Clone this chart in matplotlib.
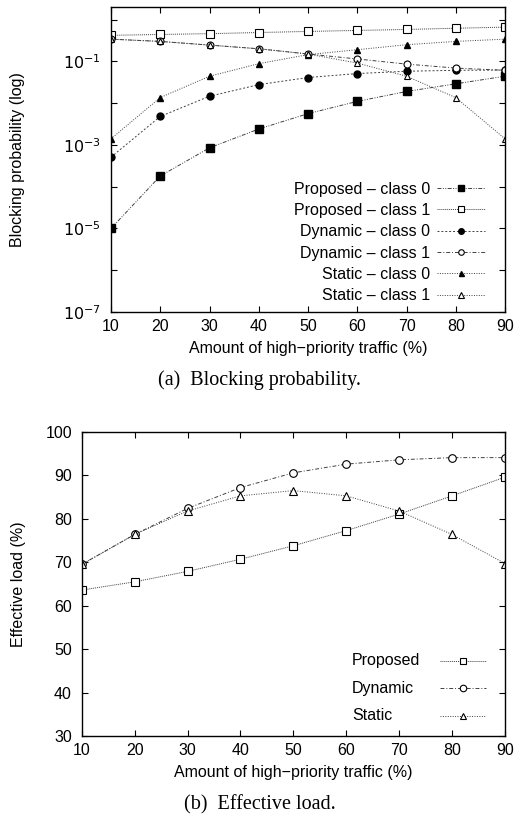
import numpy as np
import matplotlib.pyplot as plt

plt.rcParams['font.family'] = ['Liberation Sans', 'DejaVu Sans']

x = [10, 20, 30, 40, 50, 60, 70, 80, 90]

# blocking probability
prop_c0 = [1.0e-5, 1.8e-4, 8.5e-4, 2.4e-3, 5.6e-3, 0.011, 0.019, 0.029, 0.044]
prop_c1 = [0.42, 0.44, 0.46, 0.49, 0.52, 0.55, 0.58, 0.62, 0.66]
dyn_c0 = [5.1e-4, 4.8e-3, 0.0146, 0.0277, 0.041, 0.051, 0.058, 0.061, 0.062]
dyn_c1 = [0.34, 0.30, 0.245, 0.20, 0.15, 0.114, 0.086, 0.069, 0.061]
sta_c0 = [1.4e-3, 0.0136, 0.044, 0.088, 0.145, 0.19, 0.25, 0.30, 0.34]
sta_c1 = [0.34, 0.30, 0.245, 0.20, 0.15, 0.091, 0.044, 0.0136, 1.4e-3]

# effective load
load_prop = [63.6, 65.5, 67.9, 70.7, 73.8, 77.3, 81.1, 85.3, 89.6]
load_dyn = [69.5, 76.4, 82.4, 87.2, 90.6, 92.6, 93.6, 94.1, 94.1]
load_sta = [69.5, 76.4, 81.8, 85.3, 86.5, 85.3, 81.8, 76.4, 69.7]
load_names = ['Proposed', 'Dynamic', 'Static']

fs = 11.5
W, H = 514.0, 822.0
fig = plt.figure(figsize=(5.14, 8.22), dpi=100)

lw = 0.7
lc = '0.25'
ax1 = fig.add_axes([111 / W, 1 - 312 / H, 394 / W, 305 / H])
ax1.plot(x, prop_c0, color=lc, lw=lw, dashes=(4, 1.5, 1, 1.5, 1, 1.5), marker='s', ms=5.5,
         mfc='black', mec='black', label='Proposed \u2013 class 0')
ax1.plot(x, prop_c1, color=lc, lw=lw, dashes=(1, 1), marker='s', ms=6,
         mfc='white', mec='black', mew=0.8, label='Proposed \u2013 class 1')
ax1.plot(x, dyn_c0, color=lc, lw=lw, dashes=(2, 2), marker='o', ms=5,
         mfc='black', mec='black', label='Dynamic \u2013 class 0')
ax1.plot(x, dyn_c1, color=lc, lw=lw, dashes=(4, 2, 1, 2), marker='o', ms=5,
         mfc='white', mec='black', mew=0.8, label='Dynamic \u2013 class 1')
ax1.plot(x, sta_c0, color=lc, lw=lw, dashes=(1, 1.5), marker='^', ms=4.5,
         mfc='black', mec='black', label='Static \u2013 class 0')
ax1.plot(x, sta_c1, color=lc, lw=lw, dashes=(1, 1.5), marker='^', ms=5,
         mfc='white', mec='black', mew=0.8, label='Static \u2013 class 1')
ax1.set_yscale('log')
ax1.set_ylim(1e-7, 2)
ax1.set_xlim(10, 90)
ax1.set_xticks(x)
ax1.set_yticks([1e-7, 1e-5, 1e-3, 1e-1])
ax1.set_yticklabels(['$10^{-7}$', '$10^{-5}$', '$10^{-3}$', '$10^{-1}$'])
ax1.set_yticks([1e-6, 1e-4, 1e-2, 1], minor=True)
ax1.set_yticklabels([], minor=True)
ax1.set_ylabel('Blocking probability (log)', fontsize=fs)
ax1.yaxis.set_label_coords((25 - 111) / 394, 0.5)
ax1.set_xlabel('Amount of high\u2212priority traffic (%)', fontsize=fs, labelpad=5)
ax1.legend(loc='lower right', bbox_to_anchor=(0.949, 0.028), frameon=False,
           markerfirst=False, fontsize=fs, handlelength=3.0, handletextpad=0.45,
           labelspacing=0.4, borderpad=0, borderaxespad=0, markerscale=0.8)

ax2 = fig.add_axes([81.7 / W, 1 - 736 / H, 423.3 / W, 304 / H])
l1, = ax2.plot(x, load_prop, color=lc, lw=lw, dashes=(1, 1), marker='s', ms=5.5,
               mfc='white', mec='black', mew=0.8)
l2, = ax2.plot(x, load_dyn, color=lc, lw=lw, dashes=(4, 2, 1, 2), marker='o', ms=5.5,
               mfc='white', mec='black', mew=0.8)
l3, = ax2.plot(x, load_sta, color=lc, lw=lw, dashes=(1, 1.5), marker='^', ms=5.5,
               mfc='white', mec='black', mew=0.8)
ax2.set_xlim(10, 90)
ax2.set_ylim(30, 100)
ax2.set_xticks(x)
ax2.set_yticks(range(30, 101, 10))
ax2.set_ylabel('Effective load (%)', fontsize=fs)
ax2.yaxis.set_label_coords((26 - 81.7) / 423.3, 0.5)
ax2.set_xlabel('Amount of high\u2212priority traffic (%)', fontsize=fs, labelpad=5)
# gnuplot-style key: labels left-aligned, samples on the right
leg2 = ax2.legend([l1, l2, l3], ['', '', ''], loc='lower right',
                  bbox_to_anchor=(0.955, 0.038), frameon=False, markerfirst=False,
                  fontsize=fs, handlelength=2.9, handletextpad=0, labelspacing=0.78,
                  borderpad=0, borderaxespad=0, markerscale=0.85)

for ax in (ax1, ax2):
    ax.tick_params(which='both', direction='in', top=True, right=True,
                   length=4, width=0.8, labelsize=fs)
    ax.tick_params(axis='x', pad=5)
    ax.tick_params(axis='y', pad=7)
    for s in ax.spines.values():
        s.set_linewidth(1.0)

fig.canvas.draw()
rend = fig.canvas.get_renderer()
for hl, name in zip(leg2.get_lines(), load_names):
    bb = hl.get_window_extent(rend)
    yc = ax2.transAxes.inverted().transform((0, (bb.y0 + bb.y1) / 2))[1]
    ax2.text((352 - 81.7) / 423.3, yc, name, transform=ax2.transAxes,
             ha='left', va='center', fontsize=fs)

fig.text(260 / W, 1 - 380 / H, '(a)  Blocking probability.', ha='center', va='center',
         fontsize=14.5, family='Liberation Serif')
fig.text(260 / W, 1 - 805 / H, '(b)  Effective load.', ha='center', va='center',
         fontsize=14.5, family='Liberation Serif')

fig.savefig('out.png', dpi=100)
